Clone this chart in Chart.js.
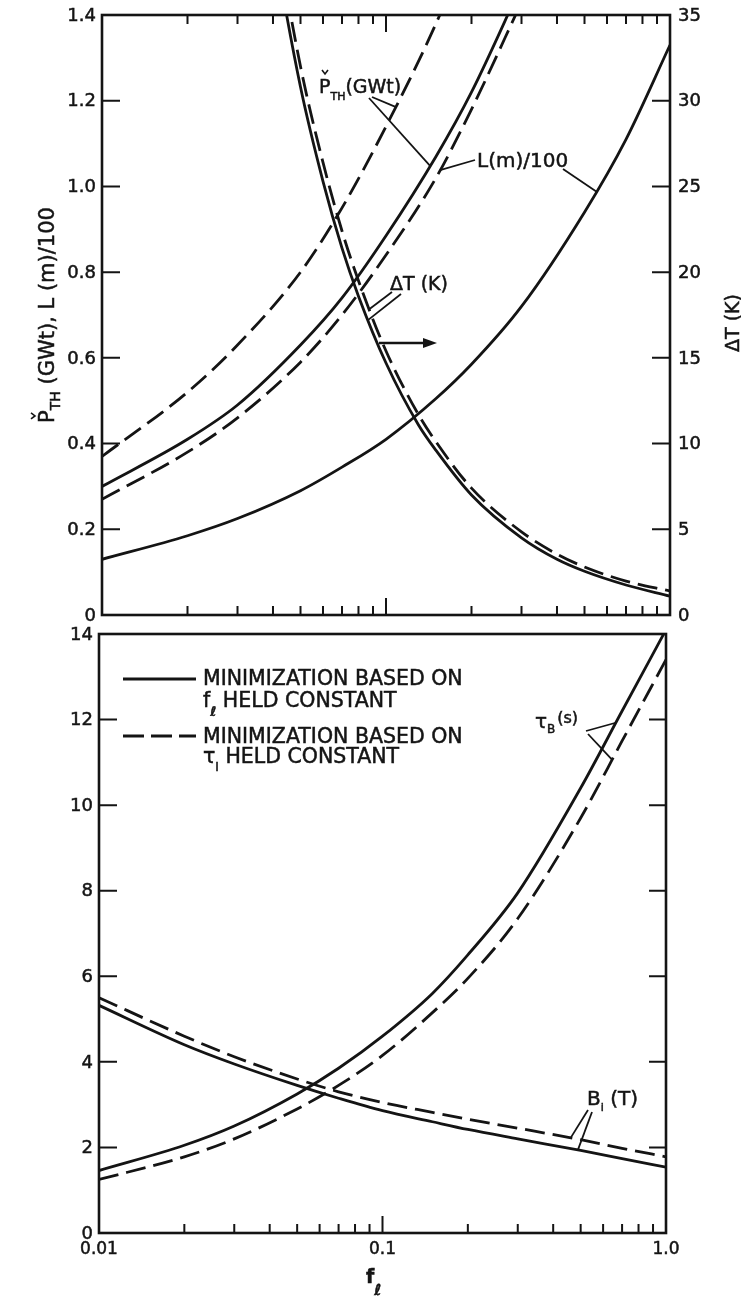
<!DOCTYPE html>
<html>
<head>
<meta charset="utf-8">
<script src="https://cdn.jsdelivr.net/npm/chart.js@4.4.1/dist/chart.umd.min.js"></script>
<style>
  html, body { margin: 0; padding: 0; background: #fff; }
  #wrap { position: relative; width: 741px; height: 1300px; }
  canvas { position: absolute; left: 0; }
  #top { top: 0; }
  #bottom { top: 624px; }
</style>
</head>
<body>
<div id="wrap">
  <canvas id="top" width="741" height="624"></canvas>
  <canvas id="bottom" width="741" height="676"></canvas>
</div>
<script>
const fPoints = [0.01, 0.02, 0.03, 0.05, 0.07, 0.1, 0.15, 0.2, 0.3, 0.5, 0.7, 1.0];
const fDeltaT = [0.035, 0.04, 0.05, 0.06, 0.07, 0.08, 0.1, 0.13, 0.15, 0.2, 0.3, 0.4, 0.5, 0.7, 1.0];

// upper panel, left axis: P_TH (GWt) and L (m)/100
const pthSolid  = [0.30, 0.41, 0.49, 0.63, 0.74, 0.885, 1.07, 1.22, 1.47];
const pthDashed = [0.37, 0.52, 0.63, 0.80, 0.95, 1.14, 1.38, 1.58];
const lenSolid  = [0.13, 0.185, 0.225, 0.29, 0.345, 0.41, 0.505, 0.585, 0.72, 0.94, 1.11, 1.33];
const lenDashed = [0.27, 0.38, 0.46, 0.59, 0.70, 0.84, 1.02, 1.18, 1.43];
// upper panel, right axis: delta T (K)
const dtSolid  = [45.5, 39.5, 30.8, 25.3, 21.4, 18.6, 14.7, 11.1, 9.6, 7.0, 4.5, 3.25, 2.55, 1.75, 1.1];
const dtDashed = [47.5, 41.0, 32.0, 26.4, 22.4, 19.5, 15.4, 11.7, 10.1, 7.4, 4.85, 3.55, 2.8, 1.98, 1.4];
// lower panel: tau_B (s) and B_i (T)
const tauSolid  = [1.46, 2.05, 2.5, 3.25, 3.85, 4.6, 5.6, 6.5, 7.95, 10.4, 12.2, 14.1];
const tauDashed = [1.25, 1.78, 2.2, 2.9, 3.45, 4.15, 5.15, 5.95, 7.35, 9.7, 11.5, 13.4];
const biSolid   = [5.32, 4.4, 3.95, 3.45, 3.15, 2.86, 2.6, 2.42, 2.2, 1.93, 1.74, 1.54];
const biDashed  = [5.5, 4.6, 4.12, 3.6, 3.3, 3.05, 2.82, 2.66, 2.45, 2.18, 1.98, 1.78];

const topLeftTicks   = [0, 0.2, 0.4, 0.6, 0.8, 1.0, 1.2, 1.4];
const topLeftLabels  = ['0', '0.2', '0.4', '0.6', '0.8', '1.0', '1.2', '1.4'];
const topRightTicks  = [0, 5, 10, 15, 20, 25, 30, 35];
const lowerTicks     = [0, 2, 4, 6, 8, 10, 12, 14];
const xLabelTicks    = [0.01, 0.1, 1.0];
const xLabels        = ['0.01', '0.1', '1.0'];
const logTicks       = [0.02, 0.03, 0.04, 0.05, 0.06, 0.07, 0.08, 0.09, 0.1,
                        0.2, 0.3, 0.4, 0.5, 0.6, 0.7, 0.8, 0.9];

const INK  = '#141414';
const FONT = '"DejaVu Sans", sans-serif';
const DASH = [20, 8];

function pairs(fs, vs) {
  return vs.map((v, i) => ({ x: fs[i], y: v }));
}

function line(fs, vs, dashed, axis) {
  return {
    data: pairs(fs, vs),
    borderColor: INK,
    borderWidth: 2.8,
    borderDash: dashed ? DASH : [],
    cubicInterpolationMode: 'monotone',
    pointRadius: 0,
    fill: false,
    yAxisID: axis || 'y'
  };
}

// value on a curve at f, interpolated in log f
function valueAt(fs, vs, f) {
  for (let i = 1; i < vs.length; i++) {
    if (f <= fs[i]) {
      const t = Math.log(f / fs[i - 1]) / Math.log(fs[i] / fs[i - 1]);
      return vs[i - 1] + t * (vs[i] - vs[i - 1]);
    }
  }
  return vs[vs.length - 1];
}

function txt(ctx, t, x, y, size, weight) {
  ctx.font = `${weight || 'normal'} ${size}px ${FONT}`;
  ctx.fillText(t, x, y);
  ctx.lineWidth = 0.5;
  ctx.strokeText(t, x, y);
}

// runs of [text, size, dy, weight] drawn left to right
function rich(ctx, x, y, parts) {
  let cx = x;
  for (const [t, size, dy = 0, w] of parts) {
    txt(ctx, t, cx, y + dy, size, w);
    cx += ctx.measureText(t).width;
  }
  return cx;
}

function richWidth(ctx, parts) {
  let w = 0;
  for (const [t, size, , wt] of parts) {
    ctx.font = `${wt || 'normal'} ${size}px ${FONT}`;
    w += ctx.measureText(t).width;
  }
  return w;
}

function leader(ctx, x0, y0, x1, y1) {
  ctx.lineWidth = 1.8;
  ctx.beginPath();
  ctx.moveTo(x0, y0);
  ctx.lineTo(x1, y1);
  ctx.stroke();
}

function checkMark(ctx, cx, cy) {
  ctx.lineWidth = 1.6;
  ctx.beginPath();
  ctx.moveTo(cx - 3, cy - 3);
  ctx.lineTo(cx, cy + 1);
  ctx.lineTo(cx + 3, cy - 3);
  ctx.stroke();
}

function frameAndLogTicks(ctx, a, x, topTicks) {
  ctx.lineWidth = 2.6;
  ctx.strokeRect(a.left, a.top, a.right - a.left, a.bottom - a.top);
  ctx.lineWidth = 2;
  ctx.beginPath();
  logTicks.forEach(v => {
    const px = x.getPixelForValue(v);
    const len = v === 0.1 ? 17 : 9;
    ctx.moveTo(px, a.bottom);
    ctx.lineTo(px, a.bottom - len);
    if (topTicks) {
      ctx.moveTo(px, a.top);
      ctx.lineTo(px, a.top + len);
    }
  });
  ctx.stroke();
}

const upperDecor = {
  id: 'upperDecor',
  afterDraw(chart) {
    const { ctx, chartArea: a, scales: { x, y, y2 } } = chart;
    ctx.save();
    ctx.strokeStyle = INK;
    ctx.fillStyle = INK;
    frameAndLogTicks(ctx, a, x, true);

    ctx.lineWidth = 2;
    ctx.beginPath();
    topLeftTicks.forEach(v => {
      const py = y.getPixelForValue(v);
      ctx.moveTo(a.left, py); ctx.lineTo(a.left + 18, py);
    });
    topRightTicks.forEach(v => {
      const py = y2.getPixelForValue(v);
      ctx.moveTo(a.right, py); ctx.lineTo(a.right - 18, py);
    });
    ctx.stroke();

    ctx.textBaseline = 'middle';
    ctx.textAlign = 'right';
    topLeftTicks.forEach((v, i) => txt(ctx, topLeftLabels[i], a.left - 6, y.getPixelForValue(v) + 1, 18));
    ctx.textAlign = 'left';
    topRightTicks.forEach(v => txt(ctx, String(v), a.right + 8, y2.getPixelForValue(v) + 1, 18));

    ctx.textBaseline = 'alphabetic';

    // left axis title, reading upward
    const title = [['P', 21], ['TH', 14, 6], [' (GWt), L (m)/100', 21]];
    ctx.save();
    ctx.translate(54, (a.top + a.bottom) / 2);
    ctx.rotate(-Math.PI / 2);
    const tw = richWidth(ctx, title);
    rich(ctx, -tw / 2, 0, title);
    checkMark(ctx, -tw / 2 + 7, -20);
    ctx.restore();

    // right axis title
    ctx.save();
    ctx.translate(739, (a.top + a.bottom) / 2 + 8);
    ctx.rotate(-Math.PI / 2);
    const rt = [['\u0394T (K)', 19]];
    rich(ctx, -richWidth(ctx, rt) / 2, 0, rt);
    ctx.restore();

    // curve labels
    rich(ctx, 319, 93, [['P', 19], ['TH', 11, 7], ['(GWt)', 19]]);
    checkMark(ctx, 325, 73);
    rich(ctx, 477, 167, [['L(m)/100', 20]]);
    rich(ctx, 390, 290, [['\u0394T (K)', 19]]);

    const px = f => x.getPixelForValue(f);
    leader(ctx, 372, 97, px(0.108), y.getPixelForValue(valueAt(fPoints, pthDashed, 0.108)));
    leader(ctx, 369, 98, px(0.143), y.getPixelForValue(valueAt(fPoints, pthSolid, 0.143)));
    leader(ctx, 475, 160, px(0.155), y.getPixelForValue(valueAt(fPoints, lenDashed, 0.155)));
    leader(ctx, 563, 169, px(0.55), y.getPixelForValue(valueAt(fPoints, lenSolid, 0.55)));
    leader(ctx, 392, 292, px(0.0875), y2.getPixelForValue(valueAt(fDeltaT, dtDashed, 0.0875)));
    leader(ctx, 401, 294, px(0.0866), y2.getPixelForValue(valueAt(fDeltaT, dtSolid, 0.0866)));

    // arrow pointing to the right-hand scale
    ctx.lineWidth = 2.5;
    ctx.beginPath();
    ctx.moveTo(379, 343); ctx.lineTo(426, 343);
    ctx.stroke();
    ctx.beginPath();
    ctx.moveTo(437, 343); ctx.lineTo(423, 338); ctx.lineTo(423, 348);
    ctx.closePath();
    ctx.fill();
    ctx.restore();
  }
};

const lowerDecor = {
  id: 'lowerDecor',
  afterDraw(chart) {
    const { ctx, chartArea: a, scales: { x, y } } = chart;
    ctx.save();
    ctx.strokeStyle = INK;
    ctx.fillStyle = INK;
    frameAndLogTicks(ctx, a, x, false);

    ctx.lineWidth = 2;
    ctx.beginPath();
    lowerTicks.forEach(v => {
      const py = y.getPixelForValue(v);
      ctx.moveTo(a.left, py); ctx.lineTo(a.left + 18, py);
      ctx.moveTo(a.right, py); ctx.lineTo(a.right - 17, py);
    });
    ctx.stroke();

    ctx.textBaseline = 'middle';
    ctx.textAlign = 'right';
    lowerTicks.forEach(v => txt(ctx, String(v), a.left - 6, y.getPixelForValue(v) + 1, 18));
    ctx.textAlign = 'center';
    xLabelTicks.forEach((v, i) => txt(ctx, xLabels[i], x.getPixelForValue(v), 626, 17));

    ctx.textAlign = 'left';
    ctx.textBaseline = 'alphabetic';

    // x axis title
    rich(ctx, 366, 659, [['f', 19, 0, 'bold'], ['\u2113', 15, 12, 'bold']]);

    // legend
    ctx.lineWidth = 2.8;
    ctx.beginPath();
    ctx.moveTo(123, 55); ctx.lineTo(196, 55);
    ctx.stroke();
    ctx.setLineDash([21, 7]);
    ctx.beginPath();
    ctx.moveTo(123, 112); ctx.lineTo(196, 112);
    ctx.stroke();
    ctx.setLineDash([]);
    rich(ctx, 203, 61, [['MINIMIZATION BASED ON', 20.5]]);
    rich(ctx, 203, 83, [['f', 20.5], ['\u2113', 13, 9, 'bold'], [' HELD CONSTANT', 20.5]]);
    rich(ctx, 203, 119, [['MINIMIZATION BASED ON', 20.5]]);
    rich(ctx, 203, 139, [['\u03C4', 20.5], ['I', 12, 8], [' HELD CONSTANT', 20.5]]);

    // curve labels
    rich(ctx, 535, 104, [['\u03C4', 20], ['B', 12, 5], [' ', 6], ['(s)', 16, -5]]);
    rich(ctx, 587, 481, [['B', 20], ['i', 11, 6], [' (T)', 20]]);

    const px = f => x.getPixelForValue(f);
    leader(ctx, 586, 107, px(0.665), y.getPixelForValue(valueAt(fPoints, tauSolid, 0.665)));
    leader(ctx, 588, 110, px(0.645), y.getPixelForValue(valueAt(fPoints, tauDashed, 0.645)));
    leader(ctx, 588, 486, px(0.461), y.getPixelForValue(valueAt(fPoints, biDashed, 0.461)));
    leader(ctx, 592, 488, px(0.489), y.getPixelForValue(valueAt(fPoints, biSolid, 0.489)));
    ctx.restore();
  }
};

const hidden = { ticks: { display: false }, grid: { display: false }, border: { display: false } };

new Chart(document.getElementById('top'), {
  type: 'line',
  data: {
    datasets: [
      line(fPoints, pthSolid, false),
      line(fPoints, pthDashed, true),
      line(fPoints, lenSolid, false),
      line(fPoints, lenDashed, true),
      line(fDeltaT, dtSolid, false, 'y2'),
      line(fDeltaT, dtDashed, true, 'y2')
    ]
  },
  options: {
    responsive: false,
    animation: false,
    devicePixelRatio: 1,
    layout: { padding: { top: 15, left: 0, right: 0, bottom: 0 } },
    plugins: { legend: { display: false }, tooltip: { enabled: false } },
    scales: {
      x: { type: 'logarithmic', min: 0.01, max: 1, ...hidden, afterFit(s) { s.height = 9; } },
      y: { position: 'left', min: 0, max: 1.4, ...hidden, afterFit(s) { s.width = 102; } },
      y2: { position: 'right', min: 0, max: 35, ...hidden, afterFit(s) { s.width = 71; } }
    }
  },
  plugins: [upperDecor]
});

new Chart(document.getElementById('bottom'), {
  type: 'line',
  data: {
    datasets: [
      line(fPoints, tauSolid, false),
      line(fPoints, tauDashed, true),
      line(fPoints, biSolid, false),
      line(fPoints, biDashed, true)
    ]
  },
  options: {
    responsive: false,
    animation: false,
    devicePixelRatio: 1,
    layout: { padding: { top: 10, left: 0, right: 75, bottom: 0 } },
    plugins: { legend: { display: false }, tooltip: { enabled: false } },
    scales: {
      x: { type: 'logarithmic', min: 0.01, max: 1, ...hidden, afterFit(s) { s.height = 67; } },
      y: { position: 'left', min: 0, max: 14, ...hidden, afterFit(s) { s.width = 99; } }
    }
  },
  plugins: [lowerDecor]
});
</script>
</body>
</html>
